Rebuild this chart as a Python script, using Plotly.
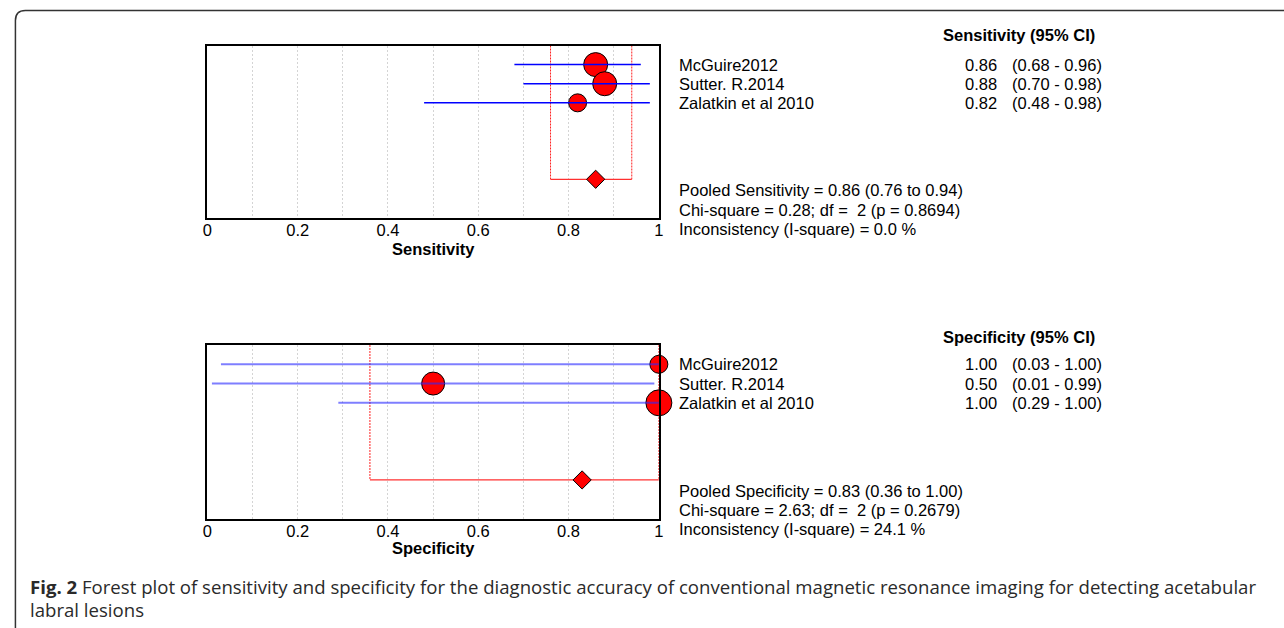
import plotly.graph_objects as go

W, H = 1284, 628

# ---------------- data ----------------
studies = ["McGuire2012", "Sutter. R.2014", "Zalatkin et al 2010"]
sens = [0.86, 0.88, 0.82]
sens_lo = [0.68, 0.70, 0.48]
sens_hi = [0.96, 0.98, 0.98]
spec = [1.00, 0.50, 1.00]
spec_lo = [0.03, 0.01, 0.29]
spec_hi = [1.00, 0.99, 1.00]
pooled_sens = 0.86
pooled_sens_lo = 0.76
pooled_sens_hi = 0.94
pooled_spec = 0.83
pooled_spec_lo = 0.36
pooled_spec_hi = 1.00
sens_stats = ["Pooled Sensitivity = 0.86 (0.76 to 0.94)",
              "Chi-square = 0.28; df =  2 (p = 0.8694)",
              "Inconsistency (I-square) = 0.0 %"]
spec_stats = ["Pooled Specificity = 0.83 (0.36 to 1.00)",
              "Chi-square = 2.63; df =  2 (p = 0.2679)",
              "Inconsistency (I-square) = 24.1 %"]
tick_vals = [0, 0.2, 0.4, 0.6, 0.8, 1]
tick_text = ["0", "0.2", "0.4", "0.6", "0.8", "1"]
caption1 = "<b>Fig. 2</b> Forest plot of sensitivity and specificity for the diagnostic accuracy of conventional magnetic resonance imaging for detecting acetabular"
caption2 = "labral lesions"

# ---------------- style ----------------
rows = [1, 2, 3]
pooled_row = 7
sens_size = [24, 24, 18]
spec_size = [18, 23, 26]
FONT = "Liberation Sans, Arial, Helvetica, sans-serif"
CAPFONT = "Open Sans, sans-serif"
FS = 16.5

def px(x):
    return x / W

def py(y):
    return 1 - y / H

fig = go.Figure()

panels = [
    dict(xa="x", ya="y", est=sens, lo=sens_lo, hi=sens_hi, size=sens_size,
         p=pooled_sens, plo=pooled_sens_lo, phi=pooled_sens_hi,
         ci_color="#0000ff", ci_w=1.5),
    dict(xa="x2", ya="y2", est=spec, lo=spec_lo, hi=spec_hi, size=spec_size,
         p=pooled_spec, plo=pooled_spec_lo, phi=pooled_spec_hi,
         ci_color="rgba(40,40,255,0.6)", ci_w=2),
]

for pn in panels:
    # pooled CI dashed verticals
    fig.add_trace(go.Scatter(
        x=[pn["plo"], pn["plo"], None, pn["phi"], pn["phi"]],
        y=[0, pooled_row, None, 0, pooled_row],
        mode="lines", line=dict(color="#ff2020", width=1, dash="2px,1px"),
        xaxis=pn["xa"], yaxis=pn["ya"], hoverinfo="skip", showlegend=False))
    # pooled horizontal line
    fig.add_trace(go.Scatter(
        x=[pn["plo"], pn["phi"]], y=[pooled_row, pooled_row],
        mode="lines", line=dict(color="#ff3030", width=1.2),
        xaxis=pn["xa"], yaxis=pn["ya"], hoverinfo="skip", showlegend=False))
    # study points
    fig.add_trace(go.Scatter(
        x=pn["est"], y=rows, mode="markers",
        marker=dict(symbol="circle", size=pn["size"], color="#ff0000", opacity=1,
                    line=dict(color="#000000", width=1)),
        cliponaxis=False,
        xaxis=pn["xa"], yaxis=pn["ya"], hoverinfo="skip", showlegend=False))
    # CI lines
    xs, ys = [], []
    for lo, hi, r in zip(pn["lo"], pn["hi"], rows):
        xs += [lo, hi, None]
        ys += [r, r, None]
    fig.add_trace(go.Scatter(
        x=xs, y=ys, mode="lines", line=dict(color=pn["ci_color"], width=pn["ci_w"]),
        xaxis=pn["xa"], yaxis=pn["ya"], hoverinfo="skip", showlegend=False))
    # pooled diamond
    fig.add_trace(go.Scatter(
        x=[pn["p"]], y=[pooled_row], mode="markers",
        marker=dict(symbol="diamond", size=14, color="#ff0000", opacity=1,
                    line=dict(color="#000000", width=1)),
        xaxis=pn["xa"], yaxis=pn["ya"], hoverinfo="skip", showlegend=False))

xdom = [px(204), px(659)]
axis_common = dict(
    range=[0, 1], domain=xdom, showline=True, mirror=True, linecolor="#000000",
    linewidth=1.5, showgrid=True, gridcolor="#d4d4d4", griddash="2px,2px",
    gridwidth=1, zeroline=False, tickmode="array", tickvals=tick_vals,
    ticktext=tick_text, ticks="", tickfont=dict(family=FONT, size=FS, color="#000"),
    ticklabelstandoff=-3,
    minor=dict(dtick=0.1, tick0=0, showgrid=True, gridcolor="#d4d4d4",
               griddash="2px,2px", gridwidth=1, ticks=""),
    fixedrange=True,
)
yaxis_common = dict(range=[9, 0], showline=True, mirror=True, linecolor="#000000",
                    linewidth=1.5, showgrid=False, zeroline=False,
                    showticklabels=False, ticks="", fixedrange=True)

fig.update_layout(
    width=W, height=H, margin=dict(l=0, r=0, t=0, b=0),
    paper_bgcolor="white", plot_bgcolor="white",
    xaxis=dict(axis_common, anchor="y"),
    yaxis=dict(yaxis_common, domain=[py(217.5), py(45.5)], anchor="x"),
    xaxis2=dict(axis_common, anchor="y2"),
    yaxis2=dict(yaxis_common, domain=[py(518.5), py(345)], anchor="x2"),
    showlegend=False,
)

ann = []

def text(x, y, s, anchor="left", size=FS, bold=False, family=FONT, yref="paper", color="#000"):
    ann.append(dict(x=x, y=y, xref="paper", yref=yref, text=("<b>%s</b>" % s) if bold else s,
                    showarrow=False, xanchor=anchor, yanchor="middle", borderpad=0,
                    font=dict(family=family, size=size, color=color)))

# axis titles
text((xdom[0] + xdom[1]) / 2, py(249), "Sensitivity", anchor="center", bold=True)
text((xdom[0] + xdom[1]) / 2, py(548), "Specificity", anchor="center", bold=True)

# right-hand tables
for pn, header, stats, y_head, y_stats, yref in [
    (panels[0], "Sensitivity (95% CI)", sens_stats, 35, [190.5, 209.7, 228.9], "y"),
    (panels[1], "Specificity (95% CI)", spec_stats, 336.5, [490.5, 509.5, 528.5], "y2"),
]:
    text(px(1100), py(y_head), header, anchor="right", bold=True)
    for name, est, lo, hi, r in zip(studies, pn["est"], pn["lo"], pn["hi"], rows):
        text(px(678), r, name, yref=yref)
        text(px(1001), r, "%.2f" % est, anchor="right", yref=yref)
        text(px(1014), r, "(%.2f - %.2f)" % (lo, hi), yref=yref)
    for s, yy in zip(stats, y_stats):
        text(px(678), py(yy), s)

# caption
text(px(24), py(586), caption1, size=18.6, family=CAPFONT, color="#2a2a2a")
text(px(24), py(609), caption2, size=18.6, family=CAPFONT, color="#2a2a2a")

fig.update_layout(annotations=ann)

# rounded outer frame (clipped by page at right and bottom)
r = 10
frame = ("M %f,%f L %f,%f Q %f,%f %f,%f L %f,%f Q %f,%f %f,%f L %f,%f" % (
    px(1300), py(10.5), px(10.5 + r), py(10.5),
    px(10.5), py(10.5), px(10.5), py(10.5 + r),
    px(10.5), py(628), px(10.5), py(638), px(10.5 + r), py(638),
    px(1300), py(638)))
fig.add_shape(type="path", path=frame, xref="paper", yref="paper",
              line=dict(color="#333333", width=1.5), layer="above")

fig.write_html("out.html")
